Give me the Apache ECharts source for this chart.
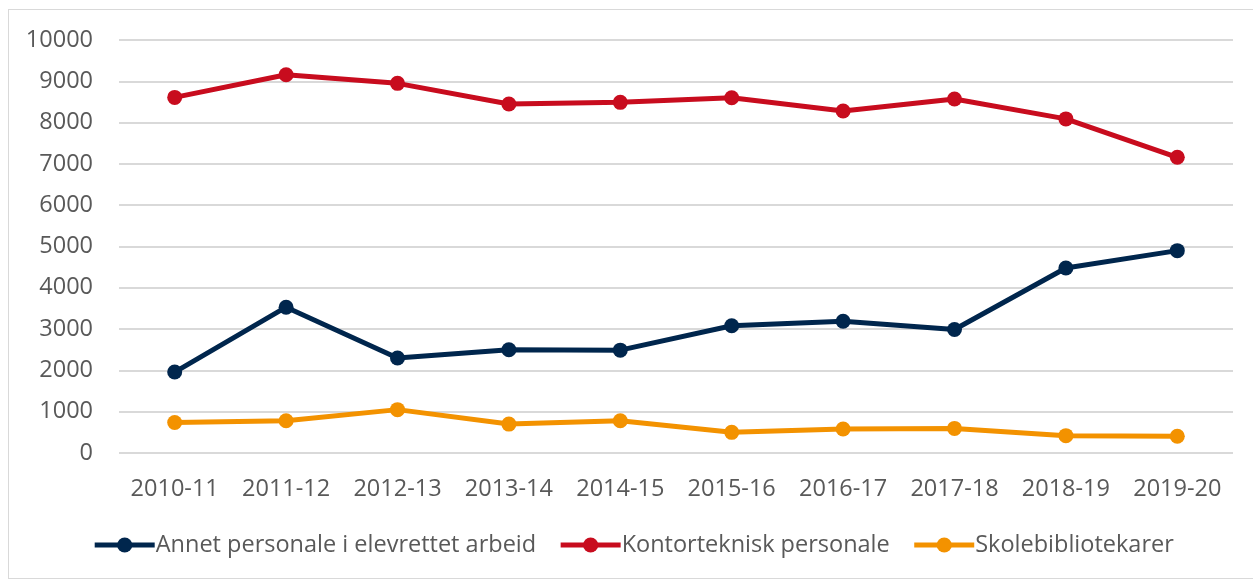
<!DOCTYPE html>
<html>
<head>
<meta charset="utf-8">
<script src="https://cdn.jsdelivr.net/npm/echarts@6/dist/echarts.min.js"></script>
<style>
  html, body { margin: 0; padding: 0; background: #fff; }
  #chart { position: absolute; left: 8px; top: 9px; width: 1250px; height: 570px; border: 1px solid #d9d9d9; box-sizing: border-box; }
</style>
</head>
<body>
<div id="chart"></div>
<script>
const categories = ['2010-11', '2011-12', '2012-13', '2013-14', '2014-15', '2015-16', '2016-17', '2017-18', '2018-19', '2019-20']
const annetPersonale = [1960, 3530, 2300, 2500, 2490, 3080, 3190, 2990, 4480, 4900]
const kontorteknisk = [8610, 9160, 8950, 8450, 8490, 8600, 8280, 8570, 8090, 7160]
const skolebibliotekarer = [740, 780, 1050, 700, 780, 500, 580, 595, 420, 405]

const textColor = '#595959'
const font = 'Open Sans'

function lineSeries(name, data, color) {
  return {
    name,
    type: 'line',
    data,
    symbol: 'circle',
    symbolSize: 15,
    lineStyle: { width: 5, color },
    itemStyle: { color },
    emphasis: { disabled: true }
  }
}

// plot area in page coords: x 119..1225, y 39..454 (container sits at 8,9)
const chart = echarts.init(document.getElementById('chart'))
chart.setOption({
  animation: false,
  textStyle: { fontFamily: font },
  grid: { left: 110, right: 24, top: 30, bottom: 125, containLabel: false },
  xAxis: {
    type: 'category',
    data: categories,
    boundaryGap: true,
    axisLine: { show: false },
    axisTick: { show: false },
    axisLabel: { color: textColor, fontSize: 23.5, fontFamily: font, margin: 24, interval: 0 }
  },
  yAxis: {
    type: 'value',
    min: 0,
    max: 10000,
    interval: 1000,
    axisLine: { show: false },
    axisTick: { show: false },
    splitLine: { lineStyle: { color: '#d9d9d9', width: 2 } },
    axisLabel: { color: textColor, fontSize: 23.5, fontFamily: font, margin: 26, formatter: v => String(v) }
  },
  legend: {
    top: 518,
    left: 'center',
    itemWidth: 60,
    itemHeight: 19,
    itemGap: 22,
    lineStyle: { width: 5 },
    textStyle: { color: textColor, fontSize: 23.5, fontFamily: font, padding: [0, 0, 0, -4] },
    data: ['Annet personale i elevrettet arbeid', 'Kontorteknisk personale', 'Skolebibliotekarer']
  },
  series: [
    lineSeries('Annet personale i elevrettet arbeid', annetPersonale, '#00264d'),
    lineSeries('Kontorteknisk personale', kontorteknisk, '#c80c1e'),
    lineSeries('Skolebibliotekarer', skolebibliotekarer, '#f39200')
  ]
})
</script>
</body>
</html>
